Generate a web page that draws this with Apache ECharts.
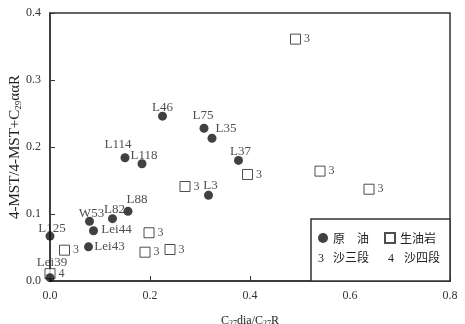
<!DOCTYPE html>
<html>
<head>
<meta charset="utf-8">
<script src="https://cdn.jsdelivr.net/npm/echarts@6/dist/echarts.min.js"></script>
<style>
  html, body { margin: 0; padding: 0; background: #fff; }
  #chart { width: 465px; height: 324px; }
</style>
</head>
<body>
<div id="chart"></div>
<script>
// 原油 (crude oil)
const oilNames = ['L46', 'L75', 'L35', 'L114', 'L118', 'L37', 'L3', 'L88', 'L82', 'W53', 'Lei44', 'Lei43', 'L125', 'Lei39'];
const oilX = [0.225, 0.308, 0.324, 0.150, 0.184, 0.377, 0.317, 0.156, 0.125, 0.079, 0.087, 0.077, 0.000, 0.000];
const oilY = [0.246, 0.228, 0.213, 0.184, 0.175, 0.180, 0.128, 0.104, 0.093, 0.089, 0.075, 0.051, 0.067, 0.005];

// 生油岩 (source rock), member: 3 = 沙三段, 4 = 沙四段
const rockX = [0.000, 0.029, 0.198, 0.190, 0.240, 0.270, 0.395, 0.540, 0.638, 0.491];
const rockY = [0.011, 0.046, 0.072, 0.043, 0.047, 0.141, 0.159, 0.164, 0.137, 0.361];
const rockMember = ['4', '3', '3', '3', '3', '3', '3', '3', '3', '3'];

const xTicks = [0, 0.2, 0.4, 0.6, 0.8];
const yTicks = [0, 0.1, 0.2, 0.3, 0.4];

// label placement for the oil points (text centre relative to dot)
const labelShift = {
  L46: [0, -9], L75: [-1, -13], L35: [14, -10], L114: [-7, -13], L118: [2, -8],
  L37: [2, -9], L3: [2, -10], L88: [9, -12], L82: [2, -9], W53: [2, -8],
  Lei44: [23, -1], Lei43: [21, 0], L125: [2, -8], Lei39: [2, -15]
};

const serif = 'Liberation Serif';
const cjk = 'Noto Sans CJK SC';
const subRich = (size, pad) => ({ sub: { fontSize: size, fontFamily: serif, color: '#222', verticalAlign: 'bottom', padding: [pad, 0, 0, 0] } });

const chart = echarts.init(document.getElementById('chart'));

chart.setOption({
  animation: false,
  textStyle: { fontFamily: serif },
  grid: {
    left: 50, right: 15, top: 13, bottom: 43, containLabel: false, outerBoundsMode: 'none',
    show: true, borderColor: '#333', borderWidth: 1.5
  },
  xAxis: {
    type: 'value', min: xTicks[0], max: xTicks[xTicks.length - 1], interval: 0.2,
    name: 'C{sub|27}dia/C{sub|27}R', nameLocation: 'middle', nameGap: 33,
    nameTextStyle: { fontFamily: serif, fontSize: 12, color: '#222', rich: subRich(8, 6) },
    axisLine: { lineStyle: { color: '#333', width: 1.5 } },
    axisTick: { inside: true, length: 5, lineStyle: { color: '#333' } },
    axisLabel: { margin: 9, fontSize: 12, color: '#333', fontFamily: serif, formatter: v => v.toFixed(1) },
    splitLine: { show: false }
  },
  yAxis: {
    type: 'value', min: yTicks[0], max: yTicks[yTicks.length - 1], interval: 0.1,
    name: '4-MST/4-MST+C{sub|29}\u03b1\u03b1R', nameLocation: 'middle', nameGap: 27, nameMoveOverlap: false,
    nameTextStyle: { fontFamily: serif, fontSize: 15, color: '#222', rich: subRich(9, 7) },
    axisLine: { lineStyle: { color: '#333', width: 1.5 } },
    axisTick: { inside: true, length: 5, lineStyle: { color: '#333' } },
    axisLabel: { margin: 9, fontSize: 12, color: '#333', fontFamily: serif, formatter: v => v.toFixed(1) },
    splitLine: { show: false }
  },
  legend: {
    left: 318, top: 232, orient: 'horizontal', padding: 0,
    itemWidth: 10, itemHeight: 10, itemGap: 15,
    textStyle: { fontFamily: cjk, fontSize: 12, color: '#222' },
    data: ['原\u3000油', '生油岩']
  },
  graphic: [
    { type: 'rect', z: 1, shape: { x: 311, y: 219, width: 139, height: 62 },
      style: { fill: '#fff', stroke: '#333', lineWidth: 1.5 } },
    { type: 'text', z: 5, x: 318, y: 253, style: { text: '3', font: '12px "Liberation Serif"', fill: '#222' } },
    { type: 'text', z: 5, x: 333, y: 251, style: { text: '沙三段', font: '12px "Noto Sans CJK SC"', fill: '#222' } },
    { type: 'text', z: 5, x: 388, y: 253, style: { text: '4', font: '12px "Liberation Serif"', fill: '#222' } },
    { type: 'text', z: 5, x: 404, y: 251, style: { text: '沙四段', font: '12px "Noto Sans CJK SC"', fill: '#222' } }
  ],
  series: [
    {
      name: '原\u3000油', type: 'scatter', symbol: 'circle', symbolSize: 9, z: 3,
      itemStyle: { color: '#111' },
      data: oilNames.map((n, i) => ({
        name: n, value: [oilX[i], oilY[i]],
        label: { offset: labelShift[n] }
      })),
      label: {
        show: true, position: 'inside', align: 'center', verticalAlign: 'middle',
        formatter: p => p.name, fontFamily: serif, fontSize: 13, color: '#222'
      }
    },
    {
      name: '生油岩', type: 'scatter', symbol: 'rect', symbolSize: 10, z: 2,
      itemStyle: { color: '#fff', borderColor: '#222', borderWidth: 1 },
      data: rockX.map((x, i) => ({ name: rockMember[i], value: [x, rockY[i]] })),
      label: {
        show: true, position: 'right', distance: 3,
        formatter: p => p.name, fontFamily: serif, fontSize: 12, color: '#222'
      }
    }
  ]
});
</script>
</body>
</html>
